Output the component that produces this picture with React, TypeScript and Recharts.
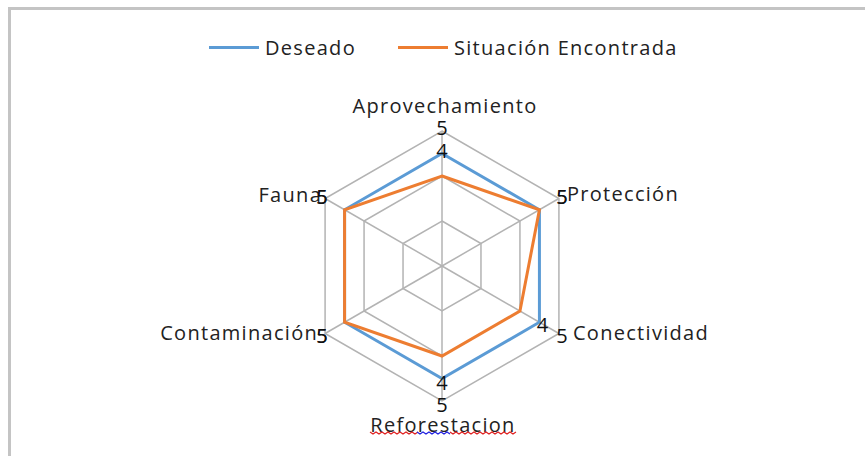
import React from 'react';
import { RadarChart, Radar, PolarGrid, PolarAngleAxis, PolarRadiusAxis, Legend } from 'recharts';

const categories = ['Aprovechamiento', 'Protección', 'Conectividad', 'Reforestacion', 'Contaminación', 'Fauna'];
const deseado = [5, 5, 5, 5, 5, 5];
const situacion = [4, 5, 4, 4, 5, 5];
const radiusTicks = [0, 2, 4, 6];

const data = categories.map((c, i) => ({ name: c, deseado: deseado[i], situacion: situacion[i] }));

const W = 865;
const H = 456;
const CX = 442;
const CY = 266;
const R = 135;
const FONT = '"Open Sans", sans-serif';
const BLUE = '#5b9bd5';
const ORANGE = '#ed7d31';
const GRID = '#b3b3b3';

// label offsets relative to the outer vertex of each spoke
const tickOffsets: any[] = [
  { dx: 3, dy: -26, anchor: 'middle' },
  { dx: 8, dy: -5, anchor: 'start' },
  { dx: 14, dy: -1, anchor: 'start' },
  { dx: 1, dy: 23, anchor: 'middle' },
  { dx: -7, dy: -1, anchor: 'end' },
  { dx: -3, dy: -4, anchor: 'end' },
];

const wave = (x0: number, x1: number, y: number) => {
  let d = `M${x0},${y}`;
  for (let x = x0, k = 0; x < x1; x += 3, k++) d += ` L${x + 3},${y + (k % 2 === 0 ? 2 : 0)}`;
  return d;
};

const AngleTick = (props: any) => {
  const i = props.index;
  const a = ((90 - i * 60) * Math.PI) / 180;
  const vx = CX + R * Math.cos(a);
  const vy = CY - R * Math.sin(a);
  const o = tickOffsets[i];
  return (
    <g>
      <text
        x={vx + o.dx}
        y={vy + o.dy}
        textAnchor={o.anchor}
        dominantBaseline="central"
        fontFamily={FONT}
        fontSize={20}
        letterSpacing={1.3}
        fill="#222"
      >
        {props.payload.value}
      </text>
      {i === 3 && (
        <g fill="none" strokeWidth={1.2}>
          <path d={wave(370, 417, 432)} stroke="#e02020" />
          <path d={wave(417, 450, 432)} stroke="#2020e0" />
          <path d={wave(450, 516, 432)} stroke="#e02020" />
        </g>
      )}
    </g>
  );
};

const ValueLabel = (props: any) => {
  const px = props.x ?? props.viewBox?.x ?? 0;
  const py = props.y ?? props.viewBox?.y ?? 0;
  const v = Array.isArray(props.value) ? props.value[1] : props.value;
  const dx = px - CX;
  const dy = py - CY;
  const len = Math.sqrt(dx * dx + dy * dy) || 1;
  return (
    <text
      x={px + (dx / len) * 26}
      y={py + (dy / len) * 26}
      textAnchor="middle"
      dominantBaseline="central"
      fontFamily={FONT}
      fontSize={20}
      fill="#111"
    >
      {v}
    </text>
  );
};

const LegendContent = () => (
  <div style={{ position: 'relative', height: 30, fontFamily: FONT, fontSize: 20, letterSpacing: 1.3, color: '#222' }}>
    {[
      { name: 'Deseado', color: BLUE, left: 209 },
      { name: 'Situación Encontrada', color: ORANGE, left: 398 },
    ].map((it) => (
      <div key={it.name} style={{ position: 'absolute', left: it.left, top: 0, display: 'flex', alignItems: 'center', height: 30 }}>
        <div style={{ width: 50, height: 3, background: it.color, marginRight: 6 }} />
        <span style={{ whiteSpace: 'nowrap' }}>{it.name}</span>
      </div>
    ))}
  </div>
);

export default function App() {
  return (
    <div style={{ position: 'absolute', left: 0, top: 0, width: W, height: H, overflow: 'hidden', background: '#fff' }}>
      <div style={{ position: 'absolute', left: 8, top: 7, width: 950, height: 600, border: '3px solid #c4c4c4' }} />
      <div style={{ position: 'absolute', left: 0, top: 0 }}>
        <RadarChart width={W} height={H} data={data} cx={CX} cy={CY} outerRadius={R} margin={{ top: 0, right: 0, bottom: 0, left: 0 }}>
          <PolarGrid gridType="polygon" stroke={GRID} strokeWidth={1.5} />
          <PolarAngleAxis dataKey="name" tick={<AngleTick />} tickLine={false} axisLine={false} />
          <PolarRadiusAxis domain={[0, 6]} ticks={radiusTicks} tickCount={4} tick={false} axisLine={false} />
          <Radar
            name="Deseado"
            dataKey="deseado"
            stroke={BLUE}
            strokeWidth={3}
            fill="none"
            fillOpacity={0}
            dot={false}
            label={<ValueLabel />}
            isAnimationActive={false}
          />
          <Radar
            name="Situación Encontrada"
            dataKey="situacion"
            stroke={ORANGE}
            strokeWidth={3}
            fill="none"
            fillOpacity={0}
            dot={false}
            label={<ValueLabel />}
            isAnimationActive={false}
          />
          <Legend content={<LegendContent />} verticalAlign="top" wrapperStyle={{ top: 32, left: 0, width: W }} />
        </RadarChart>
      </div>
    </div>
  );
}
